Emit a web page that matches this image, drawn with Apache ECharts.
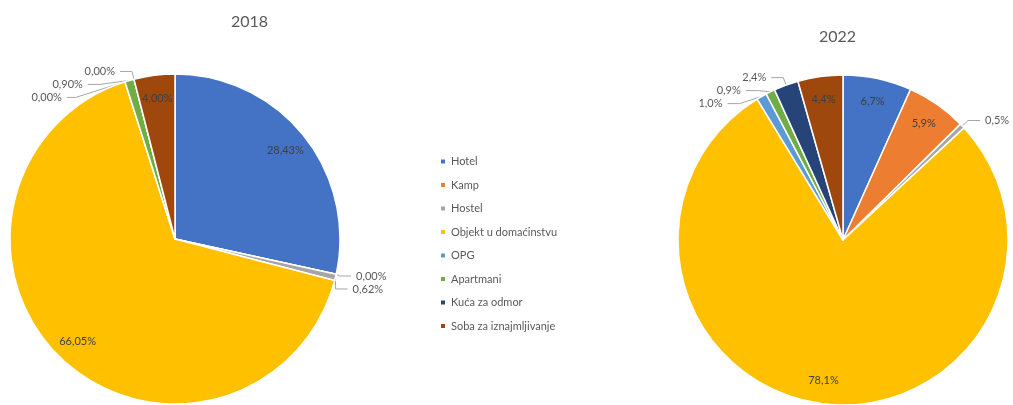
<!DOCTYPE html>
<html>
<head>
<meta charset="utf-8">
<script src="https://cdn.jsdelivr.net/npm/echarts@6/dist/echarts.min.js"></script>
<style>
  html, body { margin: 0; padding: 0; background: #fff; }
  #chart { width: 1013px; height: 405px; }
</style>
</head>
<body>
<div id="chart"></div>
<script>
// categories (legend order)
const categories = ['Hotel', 'Kamp', 'Hostel', 'Objekt u domaćinstvu', 'OPG', 'Apartmani', 'Kuća za odmor', 'Soba za iznajmljivanje'];
const colors = ['#4472C4', '#ED7D31', '#A5A5A5', '#FFC000', '#5B9BD5', '#70AD47', '#264478', '#9E480E'];

// shares in %
const values2018 = [28.43, 0.00, 0.62, 66.05, 0.00, 0.90, 0.00, 4.00];
const values2022 = [6.7, 5.9, 0.5, 78.1, 1.0, 0.9, 2.4, 4.4];

// which slices carry their label inside the slice
const inside2018 = ['Hotel', 'Objekt u domaćinstvu', 'Soba za iznajmljivanje'];
const inside2022 = ['Hotel', 'Kamp', 'Objekt u domaćinstvu', 'Soba za iznajmljivanje'];

const FONT = 'Lato, "Liberation Sans", sans-serif';

function fmt(digits) {
    return p => p.value.toFixed(digits).replace('.', ',') + '%';
}

// main pie: slices + outside labels for the small ones
function mainSeries(values, insideNames, center, radius, digits) {
    return {
        type: 'pie',
        center: center,
        radius: [0, radius],
        startAngle: 90,
        clockwise: true,
        avoidLabelOverlap: true,
        silent: true,
        itemStyle: { borderColor: '#fff', borderWidth: 1.5 },
        label: {
            show: true,
            position: 'outside',
            formatter: fmt(digits),
            color: '#595959',
            fontSize: 11,
            fontFamily: FONT,
            overflow: 'none'
        },
        labelLine: {
            show: true,
            length: 8,
            length2: 12,
            lineStyle: { color: '#A6A6A6', width: 1 }
        },
        data: categories.map((name, i) => {
            const item = { name: name, value: values[i], itemStyle: { color: colors[i] } };
            if (insideNames.includes(name)) {
                item.label = { show: false };
                item.labelLine = { show: false };
            }
            return item;
        })
    };
}

// transparent ring used only to place inside labels near the rim
function labelRing(values, insideNames, center, radius, digits) {
    return {
        type: 'pie',
        center: center,
        radius: [radius * 0.68, radius],
        startAngle: 90,
        clockwise: true,
        silent: true,
        legendHoverLink: false,
        itemStyle: { color: 'rgba(0,0,0,0)' },
        label: {
            show: true,
            position: 'inside',
            formatter: fmt(digits),
            color: '#404040',
            fontSize: 11,
            fontFamily: FONT
        },
        labelLine: { show: false },
        data: categories.map((name, i) => ({
            name: name,
            value: values[i],
            itemStyle: { color: 'rgba(0,0,0,0)' },
            label: { show: insideNames.includes(name) }
        }))
    };
}

const chart = echarts.init(document.getElementById('chart'));
chart.setOption({
    animation: false,
    color: colors,
    title: [
        { text: '2018', left: 226, top: 9, textStyle: { fontSize: 16, fontWeight: 'normal', color: '#595959', fontFamily: FONT } },
        { text: '2022', left: 814, top: 24, textStyle: { fontSize: 16, fontWeight: 'normal', color: '#595959', fontFamily: FONT } }
    ],
    legend: {
        orient: 'vertical',
        left: 434,
        top: 151,
        icon: 'rect',
        itemWidth: 6,
        itemHeight: 6,
        itemGap: 12.5,
        selectedMode: false,
        textStyle: { color: '#595959', fontSize: 11, fontFamily: FONT },
        data: categories
    },
    series: [
        mainSeries(values2018, inside2018, [175, 239], 165, 2),
        labelRing(values2018, inside2018, [175, 239], 165, 2),
        mainSeries(values2022, inside2022, [843, 240], 165, 1),
        labelRing(values2022, inside2022, [843, 240], 165, 1)
    ]
});

window.addEventListener('resize', () => chart.resize());
</script>
</body>
</html>
